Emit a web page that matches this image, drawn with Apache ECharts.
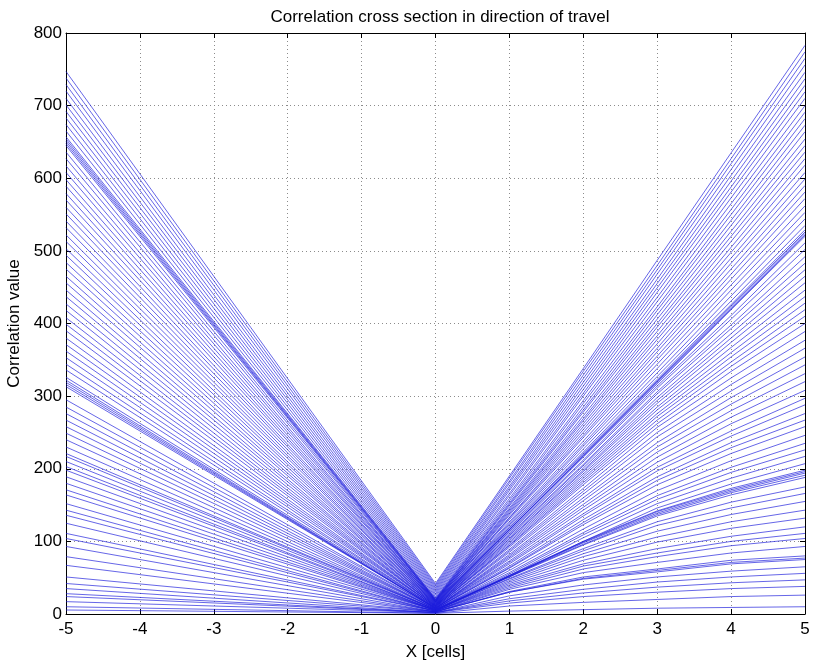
<!DOCTYPE html>
<html>
<head>
<meta charset="utf-8">
<script src="https://cdn.jsdelivr.net/npm/echarts@6/dist/echarts.min.js"></script>
<style>
  html, body { margin: 0; padding: 0; background: #fff; }
  #chart { width: 814px; height: 666px; }
</style>
</head>
<body>
<div id="chart"></div>
<script>
// Sample positions along the direction of travel (cells)
const xPositions = [-5, 0, 1, 2, 3, 4, 5];

// One entry per cross-section curve, in the same order in every array
const leftEdge = [
  747, 738, 729, 720, 710, 701, 692, 683, 674, 665,
  657, 654, 651, 648, 645,
  636, 627, 617, 608, 598, 589, 579, 570, 560, 551, 541, 532, 522, 513, 503, 494, 484, 475, 465, 456, 446, 437, 427, 418, 408, 399,
  390, 380, 371, 362, 353, 344, 336,
  326, 322, 319, 316, 313,
  295, 285, 276, 267, 258, 249, 240, 230, 221, 217, 210, 203, 198, 189, 180, 171, 164, 152, 143, 136, 125, 111, 104, 93, 79, 67, 51, 42, 35, 28, 24, 17, 10, 5.5
];
const centre = [
  42, 40, 38, 36, 34, 32, 30, 28, 26, 24,
  22, 21, 20, 20, 19,
  19, 19, 18, 18, 18, 17, 17, 17, 16, 16, 16, 15, 15, 15, 14, 14, 14, 13, 13, 13, 12, 12, 12, 11, 11, 11,
  11, 10, 10, 10, 10, 9, 9,
  9, 8, 8, 8, 8,
  8, 8, 7, 7, 7, 7, 6, 6, 6, 6, 6, 5, 5, 5, 5, 5, 5, 5, 4, 4, 4, 4, 4, 3, 3, 3, 3, 3, 2, 2, 2, 2, 1, 1
];
const rightAt1 = [
  190, 187, 183, 180, 176, 173, 170, 166, 163, 159, 156, 153, 151, 149, 146, 144, 142, 140, 138, 136,
  133, 132, 130, 127, 125, 123, 121, 119, 118, 116, 116, 116, 114,
  113, 111, 109, 108, 106, 104, 103, 101, 99, 97, 95, 94, 92,
  89, 87, 85, 82, 80, 78, 76, 73, 71, 69, 66, 64, 63, 60, 57, 55, 53, 51,
  53, 53, 52, 52, 51,
  49, 48, 46, 44, 42, 40, 38, 36, 34,
  31, 30, 30,
  25, 21, 18, 15, 11, 4
];
const rightAt2 = [
  338, 334, 329, 324, 319, 314, 309, 304, 300, 294, 290, 285, 281, 278, 273, 269, 266, 262, 258, 254,
  250, 246, 243, 238, 234, 231, 227, 223, 221, 219, 218, 217, 216,
  212, 210, 206, 204, 201, 198, 196, 193, 190, 187, 184, 181, 178,
  173, 169, 165, 160, 156, 151, 147, 143, 138, 135, 130, 126, 123, 117, 112, 109, 105, 100,
  100, 99, 98, 96, 95,
  90, 87, 83, 79, 74, 69, 66, 62, 57,
  51, 49, 48,
  40, 34, 29, 24, 16, 6
];
const rightAt3 = [
  487, 480, 474, 468, 461, 455, 449, 443, 436, 430, 423, 418, 412, 406, 400, 395, 389, 383, 378, 372,
  366, 361, 355, 350, 344, 338, 332, 327, 323, 321, 320, 319, 317,
  314, 311, 306, 303, 298, 294, 290, 285, 281, 276, 272, 267, 262,
  257, 250, 244, 236, 230, 223, 216, 209, 202, 197, 189, 184, 178, 170, 163, 158, 152, 146,
  142, 141, 139, 137, 135,
  127, 122, 114, 106, 99, 90, 84, 79, 71,
  62, 60, 58,
  51, 44, 37, 30, 20, 8
];
const rightAt4 = [
  635, 627, 620, 612, 604, 596, 588, 581, 573, 565, 557, 550, 542, 535, 527, 520, 513, 505, 498, 490,
  483, 475, 468, 461, 453, 446, 438, 431, 426, 424, 422, 420, 419,
  411, 406, 398, 393, 386, 380, 374, 367, 360, 354, 347, 341, 334,
  325, 316, 307, 298, 289, 280, 271, 262, 252, 245, 236, 229, 221, 211, 202, 195, 187, 179,
  173, 171, 169, 167, 164,
  154, 146, 137, 127, 118, 107, 100, 94, 84,
  74, 71, 69,
  59, 51, 43, 35, 24, 9
];
const rightEdge = [
  783, 774, 765, 756, 746, 737, 728, 719, 710, 700, 691, 682, 673, 664, 654, 645, 636, 627, 618, 608,
  599, 590, 581, 572, 562, 553, 544, 535, 529, 526, 524, 522, 520,
  511, 502, 492, 483, 474, 465, 456, 446, 437, 428, 419, 410, 400,
  389, 377, 366, 354, 343, 331, 320, 308, 297, 288, 276, 267, 258, 246, 235, 226, 217, 207,
  198, 196, 194, 191, 188,
  175, 166, 155, 143, 132, 120, 111, 104, 93,
  80, 77, 75,
  65, 56, 47, 38, 26, 10
];

const xTicks = [-5, -4, -3, -2, -1, 0, 1, 2, 3, 4, 5];
const yTicks = [0, 100, 200, 300, 400, 500, 600, 700, 800];

const chart = echarts.init(document.getElementById('chart'), null, { renderer: 'canvas' });

const curves = leftEdge.map((_, i) => {
  const ys = [leftEdge[i], centre[i], rightAt1[i], rightAt2[i], rightAt3[i], rightAt4[i], rightEdge[i]];
  return {
    type: 'line',
    xAxisIndex: 0,
    yAxisIndex: 0,
    showSymbol: false,
    silent: true,
    lineStyle: { color: '#1c1cdc', width: 0.8, opacity: 0.85 },
    data: xPositions.map((x, k) => [x, ys[k]])
  };
});

const font = 'Liberation Sans, Arial, sans-serif';
const gridLine = { show: true, lineStyle: { color: '#8c8c8c', type: [1, 3], width: 1 } };
const frame = { show: true, onZero: false, lineStyle: { color: '#000', width: 1 } };
const tickIn = { show: true, inside: true, length: 5, lineStyle: { color: '#000' } };

chart.setOption({
  animation: false,
  backgroundColor: '#fff',
  title: {
    text: 'Correlation cross section in direction of travel',
    left: 435,
    top: 4,
    textAlign: 'center',
    textStyle: { fontFamily: font, fontSize: 17, fontWeight: 'normal', color: '#000' }
  },
  grid: { left: 66, right: 9, top: 33, bottom: 52, containLabel: false, outerBoundsMode: 'none' },
  xAxis: [
    {
      type: 'value', position: 'bottom', min: xTicks[0], max: xTicks[xTicks.length - 1], interval: 1,
      axisLine: frame, axisTick: tickIn, splitLine: gridLine,
      axisLabel: { color: '#000', fontFamily: font, fontSize: 17, margin: 7 },
      name: 'X [cells]', nameLocation: 'middle', nameGap: 30,
      nameTextStyle: { color: '#000', fontFamily: font, fontSize: 17 }
    },
    {
      type: 'value', position: 'top', min: xTicks[0], max: xTicks[xTicks.length - 1], interval: 1,
      axisLine: frame, axisTick: tickIn, splitLine: { show: false }, axisLabel: { show: false }
    }
  ],
  yAxis: [
    {
      type: 'value', position: 'left', min: yTicks[0], max: yTicks[yTicks.length - 1], interval: 100,
      axisLine: frame, axisTick: tickIn, splitLine: gridLine,
      axisLabel: { color: '#000', fontFamily: font, fontSize: 17, margin: 4 },
      name: 'Correlation value', nameLocation: 'middle', nameGap: 34,
      nameTextStyle: { color: '#000', fontFamily: font, fontSize: 17 }
    },
    {
      type: 'value', position: 'right', min: yTicks[0], max: yTicks[yTicks.length - 1], interval: 100,
      axisLine: frame, axisTick: tickIn, splitLine: { show: false }, axisLabel: { show: false }
    }
  ],
  series: curves
});
</script>
</body>
</html>
